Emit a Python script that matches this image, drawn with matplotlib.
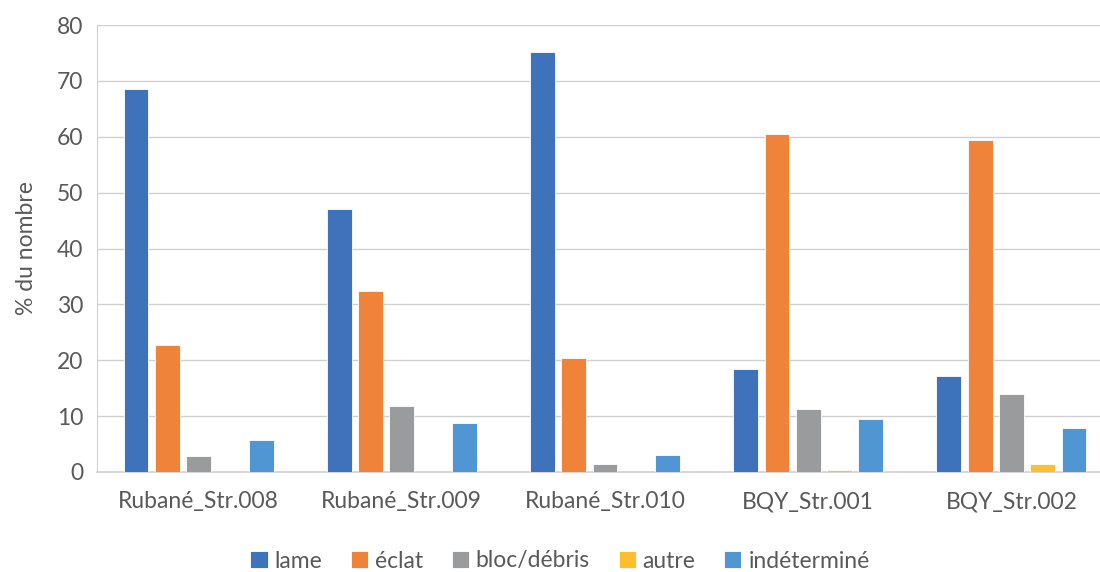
import matplotlib.pyplot as plt
import numpy as np

categories = ["Rubané_Str.008", "Rubané_Str.009", "Rubané_Str.010", "BQY_Str.001", "BQY_Str.002"]
series = ["lame", "éclat", "bloc/débris", "autre", "indéterminé"]
lame = [68.5, 47.0, 75.1, 18.4, 17.2]
eclat = [22.8, 32.4, 20.4, 60.5, 59.4]
bloc = [2.9, 11.8, 1.5, 11.3, 14.0]
autre = [0.0, 0.0, 0.0, 0.3, 1.5]
indet = [5.7, 8.8, 3.0, 9.4, 7.8]
values = [lame, eclat, bloc, autre, indet]
colors = ["#3E73BB", "#F0833A", "#999B9C", "#FDBF2D", "#4F96D2"]

plt.rcParams["font.family"] = ["Lato", "DejaVu Sans"]
text_col = "#595959"

fig = plt.figure(figsize=(11, 5.72), dpi=100)
ax = fig.add_axes([97 / 1100, 1 - 472 / 572, 1 - 97 / 1100, 447 / 572])

x = np.arange(len(categories))
pitch = 0.154
width = 0.122
for i, (name, vals, c) in enumerate(zip(series, values, colors)):
    ax.bar(x + (i - 2) * pitch, vals, width, color=c, label=name,
           edgecolor="white", linewidth=0.6, zorder=3)

ax.set_ylim(0, 80)
ax.set_yticks(range(0, 81, 10))
ax.set_xlim(-0.5, 4.436)
ax.set_xticks(x)
ax.set_xticklabels(categories)
ax.grid(axis="y", color="#D0D0D0", linewidth=1.0, zorder=0)
for s in ["top", "right"]:
    ax.spines[s].set_visible(False)
ax.spines["left"].set_color("#D0D0D0")
ax.spines["bottom"].set_color("#D0D0D0")
ax.spines["bottom"].set_linewidth(1.2)
ax.tick_params(axis="both", length=0, labelsize=16.5, colors=text_col)
ax.tick_params(axis="x", pad=14)
ax.tick_params(axis="y", pad=10)
ax.set_ylabel("% du nombre", fontsize=16.5, color=text_col, labelpad=14)

fig.legend(loc="center", bbox_to_anchor=(560 / 1100, 1 - 561 / 572), ncol=5,
           frameon=False, fontsize=16.5, handlelength=0.75, handleheight=0.75,
           handletextpad=0.3, columnspacing=1.25, labelcolor=text_col)

fig.savefig("out.png", dpi=100)
